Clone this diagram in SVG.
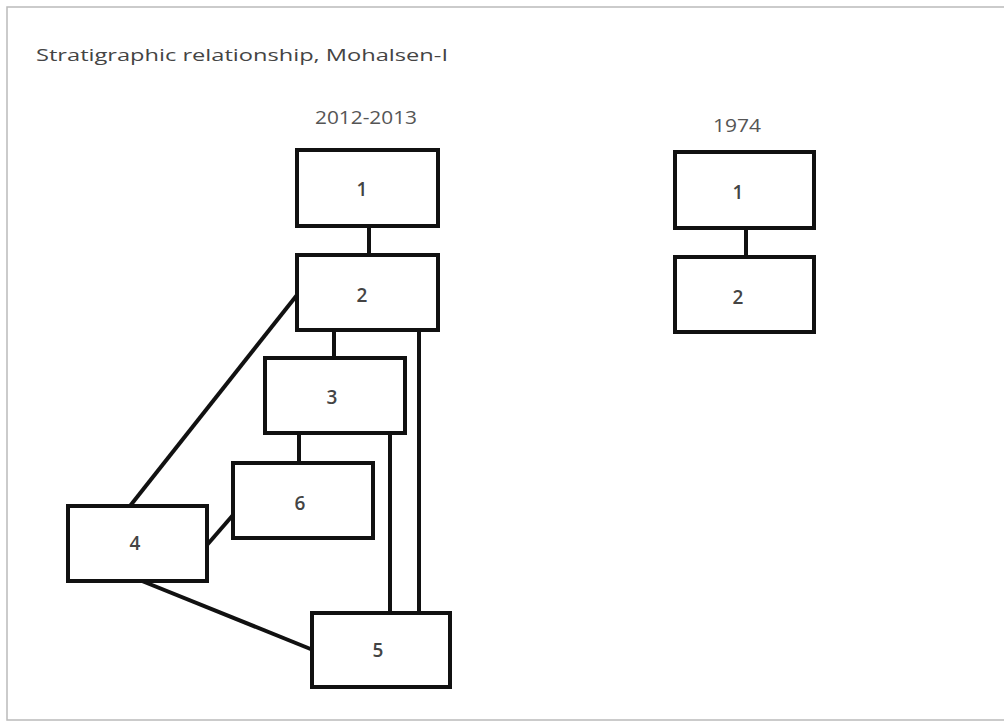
<svg xmlns="http://www.w3.org/2000/svg" width="1004" height="724" viewBox="0 0 1004 724">
<style>
.box{fill:#fff;stroke:#111;stroke-width:4}
.ln{stroke:#111;stroke-width:4;fill:none}
.lbl{font-family:"Open Sans","Liberation Sans",sans-serif;font-size:19px;font-weight:600;fill:#444;text-anchor:middle}
.hd{font-family:"Open Sans","Liberation Sans",sans-serif;font-size:16px;fill:#444}
.yr{font-family:"Open Sans","Liberation Sans",sans-serif;font-size:18px;fill:#555;text-anchor:middle}
</style>
<rect x="0" y="0" width="1004" height="724" fill="#fff"/>
<path d="M1004 7H7V720H1004" fill="none" stroke="#bbb" stroke-width="1.5"/>
<text class="hd" x="36" y="61" textLength="412" lengthAdjust="spacingAndGlyphs">Stratigraphic relationship, Mohalsen-I</text>
<text class="yr" x="366" y="124" textLength="102" lengthAdjust="spacingAndGlyphs">2012-2013</text>
<text class="yr" x="737" y="132" textLength="48" lengthAdjust="spacingAndGlyphs">1974</text>
<g id="connectors">
<line class="ln" x1="369" y1="226" x2="369" y2="255"/>
<line class="ln" x1="334" y1="330" x2="334" y2="358"/>
<line class="ln" x1="419" y1="330" x2="419" y2="613"/>
<line class="ln" x1="390" y1="433" x2="390" y2="613"/>
<line class="ln" x1="299" y1="433" x2="299" y2="463"/>
<line class="ln" x1="297" y1="295" x2="130" y2="506"/>
<line class="ln" x1="207" y1="545" x2="233" y2="515"/>
<line class="ln" x1="142" y1="581" x2="313" y2="650"/>
<line class="ln" x1="746" y1="228" x2="746" y2="257"/>
</g>
<g id="n1"><rect class="box" x="297" y="150" width="141" height="76"/><text class="lbl" x="362" y="196">1</text></g>
<g id="n2"><rect class="box" x="297" y="255" width="141" height="75"/><text class="lbl" x="362" y="302">2</text></g>
<g id="n3"><rect class="box" x="265" y="358" width="140" height="75"/><text class="lbl" x="332" y="404">3</text></g>
<g id="n6"><rect class="box" x="233" y="463" width="140" height="75"/><text class="lbl" x="300" y="510">6</text></g>
<g id="n4"><rect class="box" x="68" y="506" width="139" height="75"/><text class="lbl" x="135" y="550">4</text></g>
<g id="n5"><rect class="box" x="312" y="613" width="138" height="74"/><text class="lbl" x="378" y="657">5</text></g>
<g id="r1"><rect class="box" x="675" y="152" width="139" height="76"/><text class="lbl" x="738" y="199">1</text></g>
<g id="r2"><rect class="box" x="675" y="257" width="139" height="75"/><text class="lbl" x="738" y="304">2</text></g>
</svg>
